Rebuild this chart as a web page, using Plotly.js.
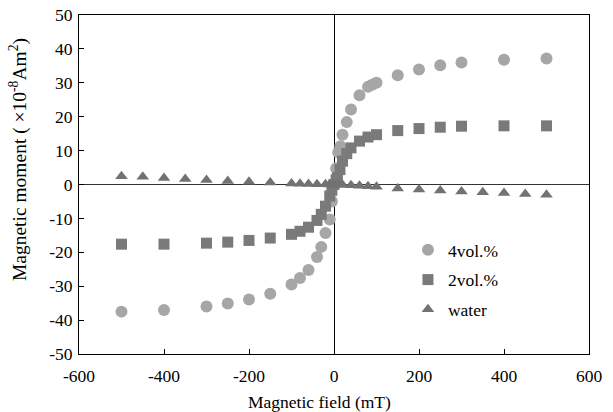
<!DOCTYPE html>
<html>
<head>
<meta charset="utf-8">
<script src="https://cdn.plot.ly/plotly-3.0.1.min.js"></script>
<style>html,body{margin:0;padding:0;background:#fff;}#chart{width:613px;height:412px;}</style>
</head>
<body>
<div id="chart"></div>
<script>
// Magnetic field (mT) and magnetic moment (x10^-8 Am^2)
const field4 = [-500,-400,-300,-250,-200,-150,-100,-80,-60,-40,-30,-20,-10,-5,0,5,10,15,20,30,40,60,80,90,100,150,200,250,300,400,500];
const moment4 = [-37.5,-37.0,-36.0,-35.1,-33.9,-32.2,-29.5,-27.6,-25.2,-21.4,-18.4,-14.3,-10.3,-5.0,0,4.8,9.5,11.3,14.7,18.4,22.1,26.3,28.8,29.4,30.0,32.2,33.9,35.2,36.0,36.8,37.2];

const field2 = [-500,-400,-300,-250,-200,-150,-100,-80,-60,-40,-30,-20,-10,-5,0,5,8,14,20,30,40,60,80,100,150,200,250,300,400,500];
const moment2 = [-17.6,-17.6,-17.3,-17.0,-16.5,-15.8,-14.7,-13.8,-12.6,-10.6,-8.8,-6.4,-3.4,-1.7,0,1.4,2.0,4.4,6.9,9.1,10.8,12.8,14.0,14.7,15.9,16.5,16.9,17.2,17.3,17.3];

const fieldW = [-500,-450,-400,-350,-300,-250,-200,-150,-100,-80,-60,-40,-20,-10,0,10,20,40,60,80,100,150,200,250,300,350,400,450,500];
const momentW = [2.4,2.3,1.9,1.6,1.3,1.0,0.8,0.6,0.3,0.2,0.15,0.1,0.05,0.0,0,-0.05,-0.1,-0.2,-0.35,-0.5,-0.7,-1.2,-1.5,-1.8,-2.1,-2.3,-2.5,-2.8,-3.0];

const seriesNames = ['4vol.%','2vol.%','water'];
const xTicks = [-600,-400,-200,0,200,400,600];
const yTicks = [-50,-40,-30,-20,-10,0,10,20,30,40,50];
const xTitle = 'Magnetic field (mT)';
const yTitle = 'Magnetic moment ( ×10<sup>-8</sup>Am<sup>2</sup>)';

const font = {family:'"Liberation Serif","Times New Roman",serif', size:17.5, color:'#000'};
const yTitleFont = {family:font.family, size:19.5, color:'#000'};

const traces = [
  {x:field4, y:moment4, name:seriesNames[0], type:'scatter', mode:'markers', legendgroup:'a',
   marker:{symbol:'circle', size:12, color:'#a6a6a6'}},
  {x:field2, y:moment2, name:seriesNames[1], type:'scatter', mode:'markers', legendgroup:'b',
   marker:{symbol:'square', size:11, color:'#7a7a7a'}},
  {x:fieldW, y:momentW, name:seriesNames[2], type:'scatter', mode:'markers', legendgroup:'c',
   marker:{symbol:'triangle-up', size:11, color:'#727272'}}
];

const layout = {
  width:613, height:412,
  margin:{l:79, r:24, t:15, b:58},
  paper_bgcolor:'#fff', plot_bgcolor:'#fff',
  font:font,
  showlegend:true,
  legend:{x:0.645, y:0.36, xanchor:'left', yanchor:'top', bgcolor:'rgba(0,0,0,0)',
          font:font, tracegroupgap:4, traceorder:'grouped'},
  xaxis:{
    range:[-600,600], tickvals:xTicks, ticktext:xTicks.map(String),
    showgrid:false, zeroline:true, zerolinecolor:'#000', zerolinewidth:1,
    showline:true, linecolor:'#000', linewidth:1, mirror:true,
    ticks:'inside', ticklen:5, tickcolor:'#000', tickfont:font, ticklabelstandoff:6
  },
  yaxis:{
    range:[-50,50], tickvals:yTicks, ticktext:yTicks.map(String),
    showgrid:false, zeroline:true, zerolinecolor:'#333', zerolinewidth:1,
    showline:true, linecolor:'#000', linewidth:1, mirror:true,
    ticks:'inside', ticklen:5, tickcolor:'#000', tickfont:font, ticklabelstandoff:2
  },
  annotations:[
    {text:xTitle, xref:'paper', yref:'paper', x:0.4716, y:-0.1416, xanchor:'center', yanchor:'middle',
     showarrow:false, font:font},
    {text:yTitle, xref:'paper', yref:'paper', x:-0.1196, y:0.572, xanchor:'center', yanchor:'middle',
     textangle:-90, showarrow:false, font:yTitleFont}
  ]
};

Plotly.newPlot('chart', traces, layout, {displayModeBar:false, staticPlot:true});
</script>
</body>
</html>
